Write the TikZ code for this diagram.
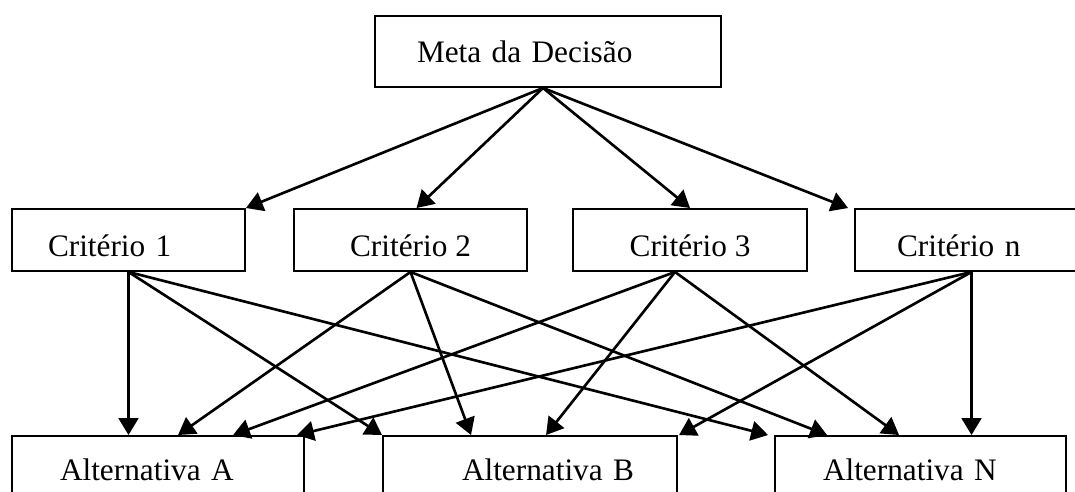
\documentclass[tikz,border=0pt]{standalone}
\usepackage{fontspec}
\setmainfont{Liberation Serif}
\usetikzlibrary{arrows.meta}

\begin{document}
\begin{tikzpicture}[scale=1.0,
    caixa/.style={draw, line width=0.55pt, rectangle, inner ysep=0pt,
        font=\fontsize{8.9pt}{10.7pt}\selectfont},
    criterio/.style={caixa, minimum width=2.33cm, minimum height=0.62cm,
        text height=0.95em, text depth=0pt},
    alternativa/.style={caixa, minimum height=0.666cm},
    seta/.style={-{Triangle[length=4.8pt,width=5.6pt]}, line width=0.75pt}]
\useasboundingbox (0, 0) rectangle (10.75, 4.91);
\node[caixa, minimum width=3.46cm, minimum height=0.71cm, text width=2.62cm,
      inner xsep=0.42cm, align=left] (meta) at (5.48, 4.395) {Meta da Decisão};
\node[criterio, text width=1.61cm, inner xsep=0.36cm, align=left] (c1) at (1.285, 2.51) {Critério 1};
\node[criterio] (c2) at (4.105, 2.51) {Critério 2};
\node[criterio, minimum width=2.34cm] (c3) at (6.90, 2.51) {Critério 3};
\node[criterio, text width=1.49cm, inner xsep=0.42cm, align=left] (cn) at (9.715, 2.51) {Critério n};
\node[alternativa, minimum width=2.92cm, text width=1.96cm, inner xsep=0.48cm,
      align=left] (altA) at (1.58, 0.217) {Alternativa A};
\node[alternativa, minimum width=2.94cm, text width=2.08cm, inner xsep=0.43cm,
      align=right] (altB) at (5.30, 0.217) {Alternativa B};
\node[alternativa, minimum width=2.91cm, text width=1.95cm, inner xsep=0.48cm,
      align=left] (altN) at (9.205, 0.217) {Alternativa N};
\draw[seta] ([xshift=-0.05cm]meta.south) -- (c1.north east);
\draw[seta] ([xshift=-0.05cm]meta.south) -- ([xshift=0.06cm]c2.north);
\draw[seta] ([xshift=-0.05cm]meta.south) -- (c3.north);
\draw[seta] ([xshift=-0.05cm]meta.south) -- ([xshift=-0.06cm]cn.north west);
\draw[seta] (c1.south) -- (c1.south |- altA.north);
\foreach \alt/\dx in {altB/0, altN/-0.06}
    \draw[seta] (c1.south) -- ([xshift=\dx cm]\alt.north west);
\foreach \alt/\dx in {altA/1.67, altB/0.89, altN/0.53}
    \draw[seta] (c2.south) -- ([xshift=\dx cm]\alt.north west);
\foreach \alt/\dx in {altA/2.22, altB/1.64, altN/1.25}
    \draw[seta] ([xshift=-0.15cm]c3.south) -- ([xshift=\dx cm]\alt.north west);
\foreach \alt/\dx in {altA/2.86, altB/2.97}
    \draw[seta] (cn.south) -- ([xshift=\dx cm]\alt.north west);
\draw[seta] (cn.south) -- (cn.south |- altN.north);
\end{tikzpicture}
\end{document}
